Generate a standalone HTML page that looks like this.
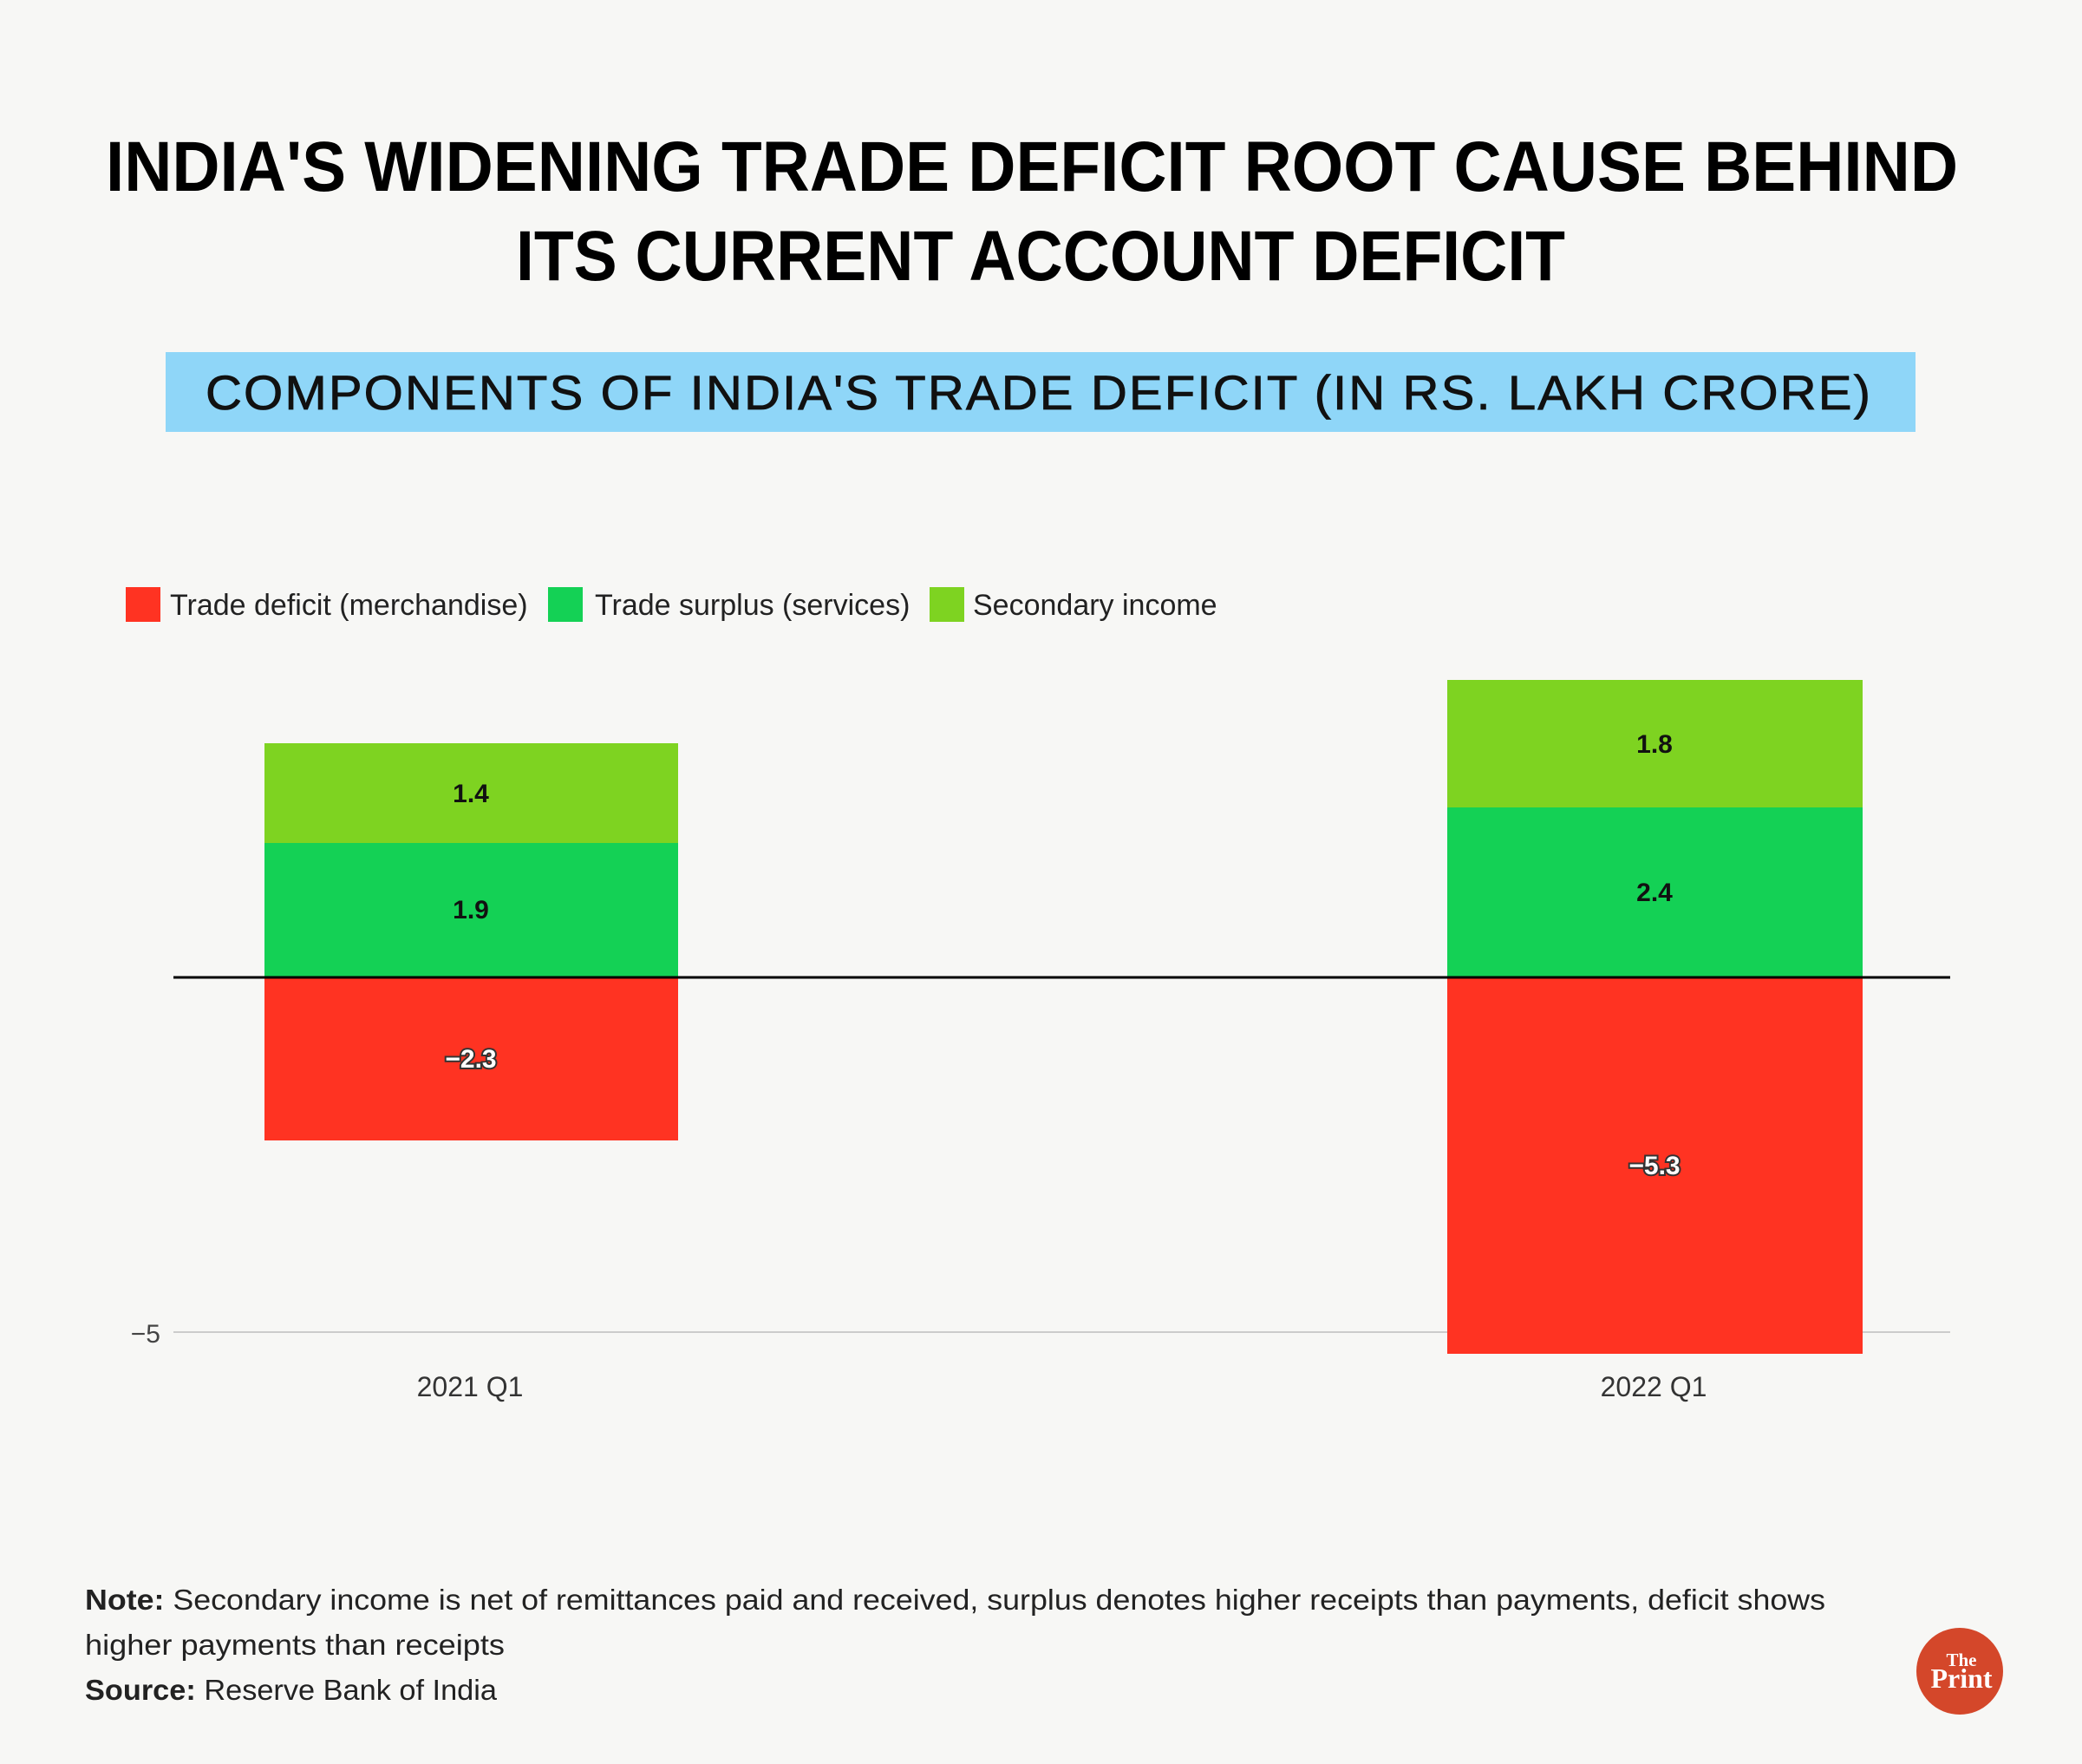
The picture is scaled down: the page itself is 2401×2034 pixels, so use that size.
<!DOCTYPE html>
<html><head><meta charset="utf-8"><style>
html,body{margin:0;padding:0;background:#f7f7f5;}
svg{display:block;}
</style></head><body>
<svg width="2401" height="2034" viewBox="0 0 2401 2034" xmlns="http://www.w3.org/2000/svg">
<rect width="2401" height="2034" fill="#f7f7f5"/>
<g font-family="Liberation Sans, sans-serif" font-weight="900" font-size="82" fill="#000" text-anchor="middle">
<text x="1190" y="220" textLength="2136" lengthAdjust="spacingAndGlyphs">INDIA'S WIDENING TRADE DEFICIT ROOT CAUSE BEHIND</text>
<text x="1200" y="323" textLength="1210" lengthAdjust="spacingAndGlyphs">ITS CURRENT ACCOUNT DEFICIT</text>
</g>
<rect x="191" y="406" width="2018" height="92" fill="#8fd6f8"/>
<text x="1198" y="472" font-family="Liberation Sans, sans-serif" font-size="56" fill="#111" stroke="#111" stroke-width="0.8" text-anchor="middle" textLength="1922" lengthAdjust="spacingAndGlyphs" letter-spacing="2">COMPONENTS OF INDIA'S TRADE DEFICIT (IN RS. LAKH CRORE)</text>
<g font-family="Liberation Sans, sans-serif" font-size="34" fill="#222">
<rect x="145" y="677" width="40" height="40" fill="#ff3322"/>
<text x="196" y="709">Trade deficit (merchandise)</text>
<rect x="632" y="677" width="40" height="40" fill="#14d155"/>
<text x="686" y="709">Trade surplus (services)</text>
<rect x="1072" y="677" width="40" height="40" fill="#7ed321"/>
<text x="1122" y="709">Secondary income</text>
</g>
<line x1="200" y1="1536" x2="2249" y2="1536" stroke="#ccc" stroke-width="2"/>
<text x="185" y="1548" font-family="Liberation Sans, sans-serif" font-size="30" fill="#444" text-anchor="end">−5</text>
<rect x="305" y="1127" width="477" height="188" fill="#ff3322"/>
<rect x="305" y="972" width="477" height="155" fill="#14d155"/>
<rect x="305" y="857" width="477" height="115" fill="#7ed321"/>
<rect x="1669" y="1127" width="479" height="434" fill="#ff3322"/>
<rect x="1669" y="931" width="479" height="196" fill="#14d155"/>
<rect x="1669" y="784" width="479" height="147" fill="#7ed321"/>
<line x1="200" y1="1127" x2="2249" y2="1127" stroke="#000" stroke-width="3"/>
<g font-family="Liberation Sans, sans-serif" font-weight="bold" font-size="30" text-anchor="middle">
<text x="543" y="925" fill="#111">1.4</text>
<text x="543" y="1059" fill="#111">1.9</text>
<text x="543" y="1231" fill="#fff" stroke="#333" stroke-width="4" paint-order="stroke">−2.3</text>
<text x="1908" y="868" fill="#111">1.8</text>
<text x="1908" y="1039" fill="#111">2.4</text>
<text x="1908" y="1354" fill="#fff" stroke="#333" stroke-width="4" paint-order="stroke">−5.3</text>
</g>
<g font-family="Liberation Sans, sans-serif" font-size="32" fill="#333" text-anchor="middle">
<text x="542" y="1610">2021 Q1</text>
<text x="1907" y="1610">2022 Q1</text>
</g>
<g font-family="Liberation Sans, sans-serif" font-size="33" fill="#222">
<text x="98" y="1856" textLength="2007" lengthAdjust="spacingAndGlyphs"><tspan font-weight="bold">Note:</tspan> Secondary income is net of remittances paid and received, surplus denotes higher receipts than payments, deficit shows</text>
<text x="98" y="1908" textLength="484" lengthAdjust="spacingAndGlyphs">higher payments than receipts</text>
<text x="98" y="1960" textLength="475" lengthAdjust="spacingAndGlyphs"><tspan font-weight="bold">Source:</tspan> Reserve Bank of India</text>
</g>
<circle cx="2260" cy="1927" r="50" fill="#d4472a"/>
<text x="2262" y="1921" font-family="Liberation Serif, serif" font-weight="bold" font-size="21" fill="#fff" text-anchor="middle">The</text>
<text x="2262" y="1946" font-family="Liberation Serif, serif" font-weight="bold" font-size="32" fill="#fff" text-anchor="middle">Print</text>
</svg>
</body></html>
